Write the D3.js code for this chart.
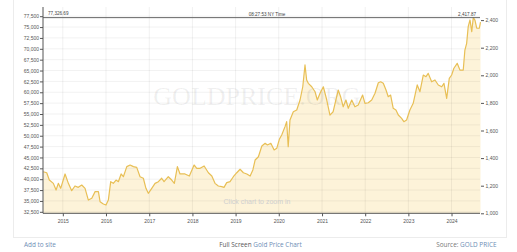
<!DOCTYPE html>
<html><head><meta charset="utf-8">
<script src="https://cdn.jsdelivr.net/npm/d3@7"></script>
<style>body{margin:0;background:#fff;} svg{display:block;}</style>
</head><body>
<svg id="c" width="517" height="252"></svg>
<script>
// ---- data ----
const dates = [
"2014-07-20","2014-08-18","2014-09-09","2014-10-13","2014-11-05","2014-11-24","2014-12-14",
"2015-01-20","2015-02-17","2015-03-17","2015-04-14","2015-05-12","2015-06-10","2015-07-08","2015-08-05","2015-09-03","2015-10-01","2015-10-29","2015-11-12","2015-12-10",
"2016-01-01","2016-01-21","2016-02-10","2016-03-03","2016-03-26","2016-04-15","2016-05-08","2016-05-27","2016-06-25","2016-07-23","2016-08-20","2016-09-17","2016-10-15","2016-11-12","2016-12-04","2016-12-24",
"2017-01-22","2017-02-19","2017-03-19","2017-04-16","2017-05-06","2017-06-11","2017-07-10","2017-08-01","2017-08-27","2017-09-18","2017-10-30","2017-12-06",
"2018-01-15","2018-02-07","2018-03-07","2018-04-10","2018-05-16","2018-06-14","2018-07-11","2018-08-08","2018-09-06","2018-09-25","2018-10-18","2018-11-15","2018-12-13",
"2019-01-11","2019-02-08","2019-03-08","2019-04-06","2019-05-04","2019-05-27","2019-06-15","2019-07-13","2019-08-11","2019-09-08","2019-09-27","2019-10-26","2019-11-23","2019-12-15",
"2020-01-06","2020-01-26","2020-02-23","2020-03-08","2020-03-21","2020-04-05","2020-05-03","2020-06-01","2020-06-29","2020-07-22","2020-08-10","2020-08-24","2020-09-07","2020-10-06","2020-11-03","2020-11-22","2020-12-15",
"2021-01-12","2021-02-10","2021-03-09","2021-04-05","2021-04-28","2021-05-18","2021-06-07","2021-06-29","2021-07-22","2021-08-11","2021-09-09","2021-10-06","2021-11-03","2021-12-10","2021-12-30",
"2022-01-27","2022-02-25","2022-03-25","2022-04-22","2022-05-12","2022-06-03","2022-06-26","2022-07-15","2022-08-04","2022-08-26","2022-09-18","2022-10-08","2022-11-05","2022-11-24","2022-12-17",
"2023-01-14","2023-02-11","2023-03-17","2023-04-09","2023-05-07","2023-05-30","2023-06-18","2023-07-17","2023-08-14","2023-09-11","2023-10-10","2023-10-29","2023-11-21","2023-12-13",
"2024-01-02","2024-01-21","2024-02-18","2024-03-12","2024-04-09","2024-04-23","2024-05-08","2024-05-21","2024-06-05","2024-06-20","2024-07-03","2024-07-17","2024-08-01","2024-08-23","2024-09-02"
];
const prices = [
1301,1294,1241,1217,1169,1217,1181,
1285,1217,1164,1198,1188,1205,1181,1096,1109,1157,1157,1084,1067,
1060,1096,1229,1217,1241,1229,1285,1265,1338,1350,1338,1333,1265,1254,1181,1145,
1181,1217,1229,1254,1229,1265,1241,1217,1338,1285,1285,1270,
1350,1326,1326,1343,1294,1270,1217,1198,1193,1188,1222,1229,1265,
1294,1319,1294,1285,1270,1314,1386,1410,1488,1507,1495,1507,1459,1471,
1536,1567,1628,1664,1483,1676,1736,1749,1821,1917,2075,1966,1942,1917,1881,1821,1870,
1917,1821,1712,1736,1821,1893,1845,1772,1821,1761,1821,1772,1785,1857,1797,
1801,1821,1870,1946,1953,1942,1893,1845,1857,1761,1749,1712,1688,1664,1676,
1749,1797,1930,1881,2002,1990,2014,1953,1966,1930,1917,1942,1833,1978,
2002,2051,2087,2038,2038,2183,2232,2352,2401,2316,2417.87,2400,2341,2341,2385
];
const leftTicks = [32500,35000,37500,40000,42500,45000,47500,50000,52500,55000,57500,60000,62500,65000,67500,70000,72500,75000,77500];
const rightTicks = [1000,1200,1400,1600,1800,2000,2200,2400];
const yearLabels = ["2015","2016","2017","2018","2019","2020","2021","2022","2023","2024"];
const maxLeft = 77326.69;
const maxRight = 2417.87;
const timeLabel = "08:27:53 NY Time";
const watermark = "GOLDPRICE.ORG";
const hint = "Click chart to zoom in";

// ---- drawing ----
const svg = d3.select("#c");
const L = 43, R = 480, T = 7, B = 213.3;
const parse = d3.timeParse("%Y-%m-%d");
const data = dates.map((d,i)=>({d:parse(d), v:prices[i]}));
const x = d3.scaleTime().domain(d3.extent(data, d=>d.d)).range([L+0.3, R+0.5]);
const yR = d3.scaleLinear().domain([1000,2400]).range([B, 20.1]);
const yL = d3.scaleLinear().domain([32500,77500]).range([211.8, 16.2]);
const yearDates = yearLabels.map(y=>new Date(+y,0,1));

// panel border
svg.append("rect").attr("x",13.5).attr("y",-1).attr("width",493).attr("height",238.5)
  .attr("fill","none").attr("stroke","#ececec");

// area fill
svg.append("path").datum(data)
  .attr("d", d3.area().x(d=>x(d.d)).y0(B).y1(d=>yR(d.v)))
  .attr("fill","#fdf3d9");

// gridlines
const g = svg.append("g");
g.selectAll(".hg").data(leftTicks).enter().append("line")
  .attr("x1",L).attr("x2",R).attr("y1",d=>yL(d)).attr("y2",d=>yL(d))
  .attr("stroke","rgba(0,0,0,0.055)");
g.selectAll(".vg").data(yearDates).enter().append("line")
  .attr("x1",d=>x(d)).attr("x2",d=>x(d)).attr("y1",T).attr("y2",B)
  .attr("stroke","rgba(0,0,0,0.06)");

// watermark
svg.append("text").attr("x",257).attr("y",105).attr("text-anchor","middle")
  .attr("font-family","Liberation Serif, serif").attr("font-size",26)
  .attr("fill","rgba(90,90,90,0.09)").text(watermark);

// hint
svg.append("text").attr("x",257).attr("y",204).attr("text-anchor","middle")
  .attr("font-family","Liberation Sans, Arial, sans-serif").attr("font-size",7)
  .attr("fill","#cfcfcf").text(hint);

// line
svg.append("path").datum(data)
  .attr("d", d3.line().x(d=>x(d.d)).y(d=>yR(d.v)))
  .attr("fill","none").attr("stroke","#e8bf55").attr("stroke-width",1.2)
  .attr("stroke-linejoin","round");

// max line
svg.append("line").attr("x1",L).attr("x2",R).attr("y1",yR(maxRight)).attr("y2",yR(maxRight))
  .attr("stroke","#666").attr("stroke-width",1);
const small = {ff:"Liberation Sans, Arial, sans-serif", fs:4.6, c:"#444"};
svg.append("text").attr("x",48).attr("y",15.3).attr("font-family",small.ff).attr("font-size",small.fs)
  .attr("fill",small.c).text(d3.format(",.2f")(maxLeft));
svg.append("text").attr("x",476).attr("y",15.5).attr("text-anchor","end").attr("font-family",small.ff).attr("font-size",small.fs)
  .attr("fill",small.c).text(d3.format(",.2f")(maxRight));
svg.append("text").attr("x",267).attr("y",15.5).attr("text-anchor","middle").attr("font-family",small.ff).attr("font-size",small.fs)
  .attr("fill",small.c).text(timeLabel);

// axes
function styleAxis(sel){
  sel.select(".domain").remove();
  sel.selectAll(".tick line").attr("stroke","#555");
  sel.selectAll(".tick text").attr("fill","#555").attr("font-family","Liberation Sans, Arial, sans-serif").attr("font-size",5);
}
svg.append("g").attr("transform",`translate(${L},0)`)
  .call(d3.axisLeft(yL).tickValues(leftTicks).tickFormat(d3.format(",")).tickSize(3).tickPadding(1))
  .call(styleAxis);
svg.append("g").attr("transform",`translate(${R+1},0)`)
  .call(d3.axisRight(yR).tickValues(rightTicks).tickFormat(d3.format(",")).tickSize(3).tickPadding(1.5))
  .call(styleAxis);
svg.append("g").attr("transform",`translate(0,${B})`)
  .call(d3.axisBottom(x).tickValues(yearDates).tickFormat((d,i)=>yearLabels[i]).tickSize(3).tickPadding(3))
  .call(styleAxis);
svg.append("line").attr("x1",L).attr("x2",L).attr("y1",T).attr("y2",B).attr("stroke","#555");
svg.append("line").attr("x1",L).attr("x2",R).attr("y1",B).attr("y2",B).attr("stroke","#555");

// footer
const ff = "Open Sans, Liberation Sans, sans-serif";
svg.append("text").attr("x",24).attr("y",246.6).attr("font-family",ff).attr("font-size",6.4)
  .attr("fill","#6d8db5").text("Add to site");
const mid = svg.append("text").attr("x",260.5).attr("y",246.6).attr("text-anchor","middle")
  .attr("font-family",ff).attr("font-size",6.4);
mid.append("tspan").attr("fill","#555").text("Full Screen ");
mid.append("tspan").attr("fill","#6d8db5").text("Gold Price Chart");
const src = svg.append("text").attr("x",496.5).attr("y",246.6).attr("text-anchor","end")
  .attr("font-family",ff).attr("font-size",6.4);
src.append("tspan").attr("fill","#777").text("Source: ");
src.append("tspan").attr("fill","#6d8db5").text("GOLD PRICE");
</script>
</body></html>
